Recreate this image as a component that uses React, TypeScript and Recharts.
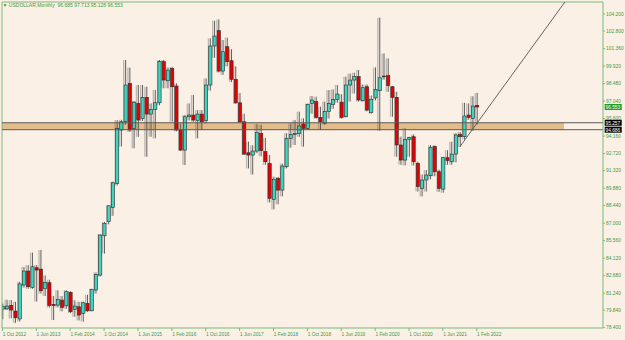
import React from "react";
import { ComposedChart, Bar, XAxis, YAxis, ReferenceLine, ReferenceArea } from "recharts";

const months = [
  "2012-10", "2012-11", "2012-12",
  "2013-01", "2013-02", "2013-03", "2013-04", "2013-05", "2013-06", "2013-07", "2013-08", "2013-09", "2013-10", "2013-11", "2013-12",
  "2014-01", "2014-02", "2014-03", "2014-04", "2014-05", "2014-06", "2014-07", "2014-08", "2014-09", "2014-10", "2014-11", "2014-12",
  "2015-01", "2015-02", "2015-03", "2015-04", "2015-05", "2015-06", "2015-07", "2015-08", "2015-09", "2015-10", "2015-11", "2015-12",
  "2016-01", "2016-02", "2016-03", "2016-04", "2016-05", "2016-06", "2016-07", "2016-08", "2016-09", "2016-10", "2016-11", "2016-12",
  "2017-01", "2017-02", "2017-03", "2017-04", "2017-05", "2017-06", "2017-07", "2017-08", "2017-09", "2017-10", "2017-11", "2017-12",
  "2018-01", "2018-02", "2018-03", "2018-04", "2018-05", "2018-06", "2018-07", "2018-08", "2018-09", "2018-10", "2018-11", "2018-12",
  "2019-01", "2019-02", "2019-03", "2019-04", "2019-05", "2019-06", "2019-07", "2019-08", "2019-09", "2019-10", "2019-11", "2019-12",
  "2020-01", "2020-02", "2020-03", "2020-04", "2020-05", "2020-06", "2020-07", "2020-08", "2020-09", "2020-10", "2020-11", "2020-12",
  "2021-01", "2021-02", "2021-03", "2021-04", "2021-05", "2021-06", "2021-07", "2021-08", "2021-09", "2021-10", "2021-11", "2021-12",
  "2022-01", "2022-02",
];

const opens = [
  79.93, 79.95, 80.24,
  79.77, 79.12, 81.91, 83.06, 81.72, 83.33, 83.22, 81.64, 82.10, 80.32, 80.26, 80.67,
  80.20, 81.31, 79.91, 80.12, 79.58, 80.40, 79.79, 81.50, 82.73, 85.96, 87.12, 88.30,
  90.27, 94.66, 95.34, 98.50, 94.80, 96.85, 95.62, 97.35, 95.97, 96.36, 96.90, 100.28,
  98.71, 99.73, 98.28, 94.66, 93.01, 95.75, 95.89, 95.43, 95.97, 95.43, 98.36, 101.57,
  102.83, 99.51, 101.51, 100.36, 98.83, 96.90, 95.34, 92.79, 92.60, 92.93, 94.38, 92.88,
  91.90, 88.95, 90.68, 89.72, 91.64, 93.97, 94.30, 94.38, 95.15, 94.80, 96.85, 96.99,
  95.70, 95.21, 96.17, 96.77, 97.18, 96.95, 95.75, 98.36, 98.77, 99.05, 97.07, 98.22,
  96.11, 97.30, 97.89, 99.10, 99.13, 98.22, 97.35, 93.43, 92.19, 93.89, 94.11, 91.92,
  89.86, 90.55, 90.90, 93.29, 91.23, 89.80, 92.38, 92.05, 92.68, 94.30, 94.11, 95.89,
  95.62, 96.685,
];

const highs = [
  80.40, 80.70, 80.67,
  80.53, 82.18, 83.40, 83.55, 84.57, 83.55, 84.80, 82.70, 82.35, 81.00, 81.48, 81.00,
  81.48, 81.40, 80.65, 80.53, 80.55, 81.10, 81.60, 82.95, 86.10, 87.10, 88.45, 90.41,
  95.48, 95.50, 100.42, 99.80, 97.05, 98.36, 98.36, 98.22, 96.85, 97.95, 100.42, 100.42,
  99.80, 99.85, 98.50, 95.20, 95.90, 96.85, 97.54, 96.30, 96.30, 98.90, 102.20, 103.65,
  103.76, 102.06, 102.26, 101.30, 99.90, 97.70, 96.00, 93.70, 93.40, 95.15, 95.10, 94.00,
  92.60, 90.82, 90.80, 91.90, 94.40, 95.20, 95.48, 96.17, 95.62, 96.85, 97.46, 97.40,
  96.58, 97.00, 97.95, 98.00, 98.36, 97.60, 99.05, 99.30, 99.37, 99.60, 98.40, 98.40,
  97.50, 99.81, 103.90, 100.96, 100.55, 98.28, 97.80, 94.11, 94.80, 94.10, 94.30, 92.05,
  91.00, 91.37, 93.43, 93.40, 91.40, 92.46, 93.00, 93.70, 94.40, 94.50, 96.90, 96.85,
  97.44, 97.713,
];

const lows = [
  79.10, 79.85, 79.17,
  78.80, 78.90, 81.70, 81.60, 81.60, 80.55, 81.20, 81.00, 80.05, 79.03, 80.07, 79.75,
  79.95, 79.60, 79.30, 79.00, 78.90, 79.70, 79.75, 81.20, 82.60, 84.50, 86.90, 87.60,
  90.10, 93.30, 95.10, 94.50, 93.15, 94.10, 95.40, 92.46, 94.10, 93.97, 96.70, 98.09,
  98.09, 95.34, 94.55, 92.95, 91.78, 95.45, 95.34, 93.97, 94.66, 95.20, 97.90, 100.60,
  99.40, 99.20, 99.90, 98.60, 96.80, 95.25, 92.60, 91.50, 91.00, 92.75, 92.50, 91.80,
  88.70, 88.13, 88.55, 89.20, 91.50, 93.20, 93.43, 94.10, 93.29, 94.70, 96.00, 95.60,
  94.66, 95.10, 95.60, 96.40, 96.90, 95.60, 95.70, 97.00, 97.67, 97.00, 97.00, 96.20,
  96.00, 97.10, 94.60, 98.80, 97.80, 95.75, 92.46, 91.80, 91.75, 92.46, 91.75, 89.60,
  89.20, 89.60, 90.60, 90.85, 89.58, 89.50, 91.80, 91.80, 92.00, 93.28, 93.87, 95.50,
  94.60, 95.128,
];

const closes = [
  80.16, 80.18, 79.85,
  79.22, 82.00, 83.06, 81.77, 83.41, 83.14, 81.44, 82.13, 80.21, 80.21, 80.73, 80.07,
  81.36, 79.71, 80.18, 79.44, 80.45, 79.79, 81.55, 82.79, 86.02, 86.98, 88.43, 90.32,
  94.80, 95.34, 98.36, 94.66, 96.95, 95.48, 97.35, 95.97, 96.36, 96.90, 100.28, 98.77,
  99.59, 98.22, 94.66, 93.01, 95.75, 95.89, 95.48, 95.97, 95.34, 98.36, 101.57, 102.39,
  99.51, 101.10, 100.28, 98.83, 96.90, 95.34, 92.68, 92.60, 92.93, 94.44, 92.96, 92.05,
  89.04, 90.60, 89.72, 91.70, 93.97, 94.30, 94.38, 94.99, 94.80, 96.77, 97.13, 95.70,
  95.34, 96.17, 96.85, 97.18, 97.62, 95.70, 98.36, 98.77, 99.05, 97.13, 98.14, 96.30,
  97.18, 98.00, 98.96, 99.05, 98.31, 97.35, 93.43, 92.19, 93.89, 94.05, 92.05, 90.00,
  90.55, 90.96, 93.23, 91.23, 89.86, 92.38, 92.14, 92.68, 94.25, 94.11, 95.81, 95.70,
  96.63, 96.553,
];

const xTickIndex = [0, 8, 16, 24, 32, 40, 48, 56, 64, 72, 80, 88, 96, 104, 112];
const xTickLabels = [
  "1 Oct 2012", "1 Jun 2013", "1 Feb 2014", "1 Oct 2014", "1 Jun 2015", "1 Feb 2016", "1 Oct 2016",
  "1 Jun 2017", "1 Feb 2018", "1 Oct 2018", "1 Jun 2019", "1 Feb 2020", "1 Oct 2020", "1 Jun 2021", "1 Feb 2022",
];
const yTicks = [
  78.4, 79.84, 81.24, 82.68, 84.12, 85.56, 87.0, 88.44, 89.88, 91.32,
  92.72, 94.16, 95.6, 97.04, 98.48, 99.92, 101.36, 102.8, 104.2,
];

const zoneLow = 94.686;
const zoneHigh = 95.257;
const zoneEndIndex = 132.6;
const lastClose = 96.553;
const trendStart = { i: 108, v: 93.28 };
const trendEnd = { i: 132.8, v: 105.19 };

const X_DOMAIN: [number, number] = [-0.1, 141.8];
const Y_DOMAIN: [number, number] = [78.375, 105.19];

const GREEN = "#3f9a3f";
const GREEN_LINE = "#78bb78";
const FONT = "'Liberation Sans', Arial, sans-serif";
const BG = "#FAF0E6";

const data = months.map((m, i) => ({
  i,
  m,
  o: opens[i],
  h: highs[i],
  l: lows[i],
  c: closes[i],
  range: [lows[i], highs[i]],
}));

const Candle = (props: any) => {
  const { x, y, width, height, payload } = props;
  if (!payload || x == null || y == null) return null;
  const top = Math.min(y, y + height);
  const bottom = Math.max(y, y + height);
  const span = payload.h - payload.l;
  const k = span > 0 ? (bottom - top) / span : 0;
  const py = (v: number) => top + (payload.h - v) * k;
  const cx = x + width / 2;
  const up = payload.c >= payload.o;
  const bt = py(Math.max(payload.o, payload.c));
  const bb = py(Math.min(payload.o, payload.c));
  const bw = 3.2;
  return (
    <g>
      <line x1={cx - 1.9} x2={cx - 1.9} y1={top} y2={bottom} stroke="rgba(110,110,110,0.42)" strokeWidth={1.4} />
      <line x1={cx} x2={cx} y1={top} y2={bottom} stroke="#3a3a3a" strokeWidth={0.8} />
      <rect
        x={cx - bw / 2}
        y={bt}
        width={bw}
        height={Math.max(bb - bt, 0.8)}
        fill={up ? "#3fd4c0" : "#e60000"}
        stroke="#2a2a2a"
        strokeWidth={0.6}
      />
    </g>
  );
};

const XTick = (props: any) => {
  const { x, y, payload } = props;
  const idx = xTickIndex.indexOf(payload.value);
  return (
    <text x={x + 0.3} y={y + 4.6} fontSize={4.8} fill={GREEN} fontFamily={FONT}>
      {idx >= 0 ? xTickLabels[idx] : ""}
    </text>
  );
};

const PriceTag = (props: any) => {
  const { viewBox, text, bg } = props;
  if (!viewBox) return null;
  const x = viewBox.x + viewBox.width + 1.7;
  const y = viewBox.y;
  return (
    <g>
      <rect x={x} y={y - 3} width={17} height={6} fill={bg} />
      <text x={x + 0.8} y={y + 1.8} fontSize={4.8} fill="#ffffff" fontFamily={FONT}>
        {text}
      </text>
    </g>
  );
};

export default function App() {
  return (
    <div style={{ position: "fixed", left: 0, top: 0, width: 625, height: 340, background: BG, overflow: "hidden" }}>
      <ComposedChart
        width={625}
        height={340}
        data={data}
        margin={{ top: 2, right: 0, bottom: 0, left: 2 }}
        style={{ background: BG }}
      >
        <XAxis
          dataKey="i"
          type="number"
          domain={X_DOMAIN}
          allowDataOverflow
          ticks={xTickIndex}
          interval={0}
          height={12}
          tickSize={3}
          tickMargin={0}
          axisLine={{ stroke: GREEN_LINE }}
          tickLine={{ stroke: GREEN_LINE }}
          tick={<XTick />}
        />
        <YAxis
          orientation="right"
          type="number"
          domain={Y_DOMAIN}
          allowDataOverflow
          ticks={yTicks}
          interval={0}
          width={22}
          tickSize={2}
          tickMargin={1}
          axisLine={{ stroke: GREEN_LINE }}
          tickLine={{ stroke: GREEN_LINE }}
          tick={{ fontSize: 4.9, fill: GREEN, fontFamily: FONT }}
          tickFormatter={(v: number) => v.toFixed(3)}
        />
        <ReferenceArea
          x1={X_DOMAIN[0]}
          x2={zoneEndIndex}
          y1={zoneLow}
          y2={zoneHigh}
          fill="#E3BC8A"
          fillOpacity={1}
          stroke="none"
        />
        <ReferenceArea
          x1={zoneEndIndex}
          x2={X_DOMAIN[1]}
          y1={zoneLow}
          y2={zoneHigh}
          fill={BG}
          fillOpacity={1}
          stroke="none"
        />
        <ReferenceLine x={X_DOMAIN[0]} stroke={GREEN_LINE} strokeWidth={1} />
        <ReferenceLine y={Y_DOMAIN[1]} stroke={GREEN_LINE} strokeWidth={1} />
        <Bar dataKey="range" barSize={3} shape={<Candle />} isAnimationActive={false} />
        <ReferenceLine
          y={zoneHigh}
          stroke="#5a5a5a"
          strokeWidth={1}
          label={<PriceTag text={zoneHigh.toFixed(3)} bg="#000000" />}
        />
        <ReferenceLine
          y={zoneLow}
          stroke="#5a5a5a"
          strokeWidth={1}
          label={<PriceTag text={zoneLow.toFixed(3)} bg="#000000" />}
        />
        <ReferenceLine
          y={lastClose}
          stroke="none"
          strokeOpacity={0}
          label={<PriceTag text={lastClose.toFixed(3)} bg="#1f9e1f" />}
        />
        <ReferenceLine
          segment={[
            { x: trendStart.i, y: trendStart.v },
            { x: trendEnd.i, y: trendEnd.v },
          ]}
          stroke="#555555"
          strokeWidth={0.9}
          ifOverflow="visible"
        />
      </ComposedChart>
      <div
        style={{
          position: "absolute",
          left: 2.5,
          top: 2.2,
          fontSize: 5,
          lineHeight: "6px",
          color: GREEN,
          fontFamily: FONT,
          whiteSpace: "pre",
        }}
      >
        {"▼ USDOLLAR,Monthly  96.685 97.713 95.128 96.553"}
      </div>
    </div>
  );
}
